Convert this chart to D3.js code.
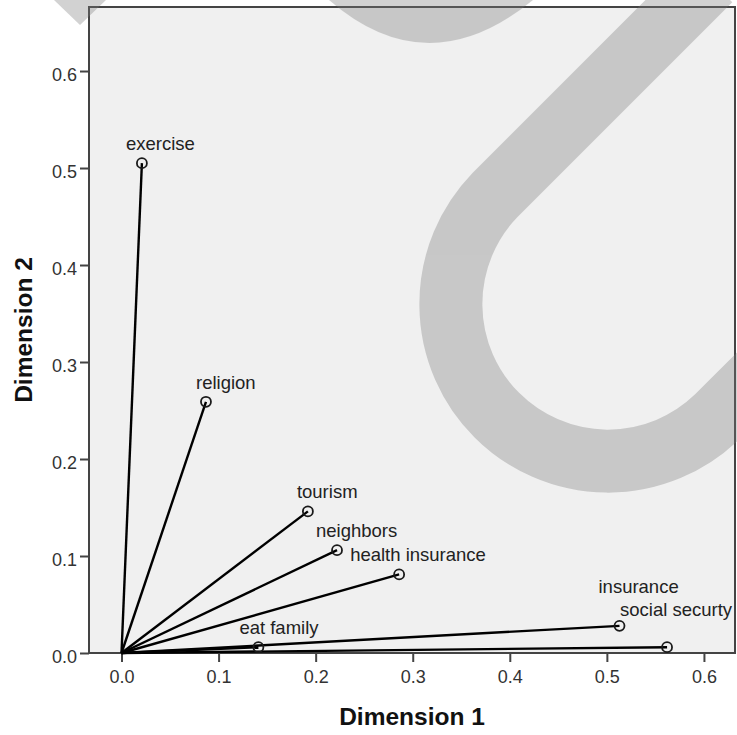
<!DOCTYPE html>
<html>
<head>
<meta charset="utf-8">
<script src="https://cdn.jsdelivr.net/npm/d3@7"></script>
<style>
  body { margin: 0; background: #fff; }
  svg { display: block; font-family: "Liberation Sans", Arial, sans-serif; }
</style>
</head>
<body>
<svg id="chart" width="737" height="735"></svg>
<script>
// discrimination measures
const names = ["exercise", "religion", "tourism", "neighbors", "health insurance", "eat family", "insurance", "social securty"];
const dim1 = [0.021, 0.087, 0.192, 0.222, 0.286, 0.141, 0.513, 0.562];
const dim2 = [0.505, 0.259, 0.146, 0.106, 0.081, 0.006, 0.028, 0.006];
const xTicks = [0, 0.1, 0.2, 0.3, 0.4, 0.5, 0.6];
const yTicks = [0, 0.1, 0.2, 0.3, 0.4, 0.5, 0.6];

// label nudges (px) so labels sit where SPSS put them
const labelNudge = [[-16, -13], [-10, -13], [-11, -13], [-21, -13], [-49, -13], [-19, -13], [-21, -33], [-47, -31]];

const svg = d3.select("#chart");
const plotL = 89, plotT = 7, plotR = 735, plotB = 653;

const x = d3.scaleLinear().domain([-0.0335, 0.632]).range([plotL, plotR]);
const y = d3.scaleLinear().domain([0, 0.666]).range([plotB, plotT]);

// plot background
svg.append("rect")
    .attr("x", plotL).attr("y", plotT)
    .attr("width", plotR - plotL).attr("height", plotB - plotT)
    .attr("fill", "#f0f0f0");

// axes
const xAxis = svg.append("g")
    .attr("transform", `translate(0,${plotB})`)
    .call(d3.axisBottom(x).tickValues(xTicks).tickFormat(d3.format(".1f")).tickSize(9).tickPadding(8));
const yAxis = svg.append("g")
    .attr("transform", `translate(${plotL},0)`)
    .call(d3.axisLeft(y).tickValues(yTicks).tickFormat(d3.format(".1f")).tickSize(9).tickPadding(3));

[xAxis, yAxis].forEach(g => {
    g.select(".domain").remove();
    g.selectAll(".tick line").attr("stroke", "#444").attr("stroke-width", 2);
    g.selectAll(".tick text")
        .attr("fill", "#333")
        .style("font-size", "18px")
        .style("font-family", "'Liberation Sans', Arial, sans-serif");
});
yAxis.selectAll(".tick text").attr("dy", "0.5em");

// frame
svg.append("rect")
    .attr("x", plotL).attr("y", plotT)
    .attr("width", plotR - plotL).attr("height", plotB - plotT)
    .attr("fill", "none")
    .attr("stroke", "#444")
    .attr("stroke-width", 2);

const pts = names.map((n, i) => ({ name: n, d1: dim1[i], d2: dim2[i], nudge: labelNudge[i] }));

// vectors from the origin
svg.append("g").selectAll("line")
    .data(pts)
    .enter().append("line")
    .attr("x1", x(0)).attr("y1", y(0))
    .attr("x2", d => x(d.d1)).attr("y2", d => y(d.d2))
    .attr("stroke", "#000")
    .attr("stroke-width", 2.4);

svg.append("g").selectAll("circle")
    .data(pts)
    .enter().append("circle")
    .attr("cx", d => x(d.d1)).attr("cy", d => y(d.d2))
    .attr("r", 5)
    .attr("fill", "none")
    .attr("stroke", "#1a1a1a")
    .attr("stroke-width", 1.8);

svg.append("g").selectAll("text")
    .data(pts)
    .enter().append("text")
    .attr("x", d => x(d.d1) + d.nudge[0])
    .attr("y", d => y(d.d2) + d.nudge[1])
    .attr("fill", "#222")
    .style("font-size", "18.5px")
    .text(d => d.name);

// axis titles
svg.append("text")
    .attr("x", (plotL + plotR) / 2).attr("y", 725)
    .attr("text-anchor", "middle")
    .style("font-size", "24.5px").style("font-weight", "bold")
    .attr("fill", "#111")
    .text("Dimension 1");

svg.append("text")
    .attr("transform", `translate(32,${(plotT + plotB) / 2}) rotate(-90)`)
    .attr("text-anchor", "middle")
    .style("font-size", "24.5px").style("font-weight", "bold")
    .attr("fill", "#111")
    .text("Dimension 2");

// watermark overlay
const wm = svg.append("g").attr("opacity", 0.333);
wm.append("path")
    .attr("d", "M 710 -20 L 495 195 A 157 157 0 0 0 717 417 L 790 344")
    .attr("fill", "none")
    .attr("stroke", "#787878")
    .attr("stroke-width", 63);
wm.append("path")
    .attr("d", "M 329 0 Q 428 86 533 0 Z")
    .attr("fill", "#787878");
wm.append("path")
    .attr("d", "M 54 0 L 106 0 L 80 25 Z")
    .attr("fill", "#787878");
</script>
</body>
</html>
